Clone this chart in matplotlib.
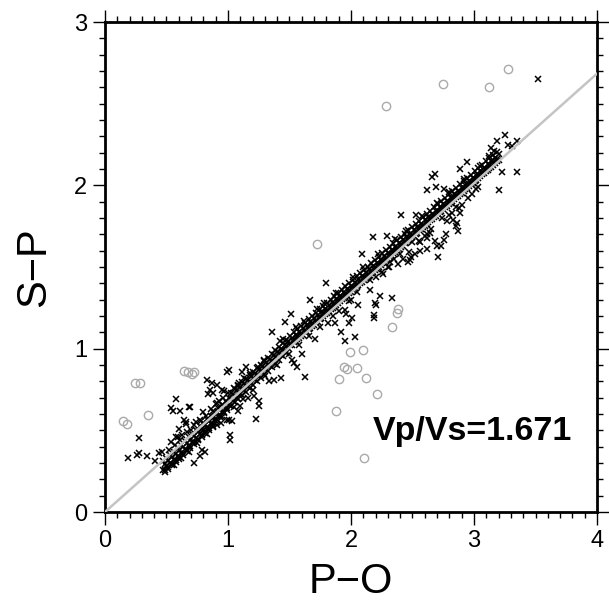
import matplotlib
matplotlib.use("Agg")
import matplotlib.pyplot as plt
from matplotlib.ticker import MultipleLocator

plt.rcParams['font.family'] = ['Liberation Sans', 'DejaVu Sans']

vpvs = 1.671
x_range = [0, 4]
y_range = [0, 3]

# dense band: lanes read along the main cloud
band_x = [0.47, 0.50, 0.53, 0.56, 0.59, 0.62, 0.65, 0.68, 0.71, 0.74, 0.77, 0.80, 0.83, 0.86, 0.89,
          0.92, 0.95, 0.98, 1.01, 1.04, 1.07, 1.10, 1.13, 1.16, 1.19, 1.22, 1.25, 1.28, 1.31, 1.34,
          1.37, 1.40, 1.43, 1.46, 1.49, 1.52, 1.55, 1.58, 1.61, 1.64, 1.67, 1.70, 1.73, 1.76, 1.79,
          1.82, 1.85, 1.88, 1.91, 1.94, 1.97, 2.00, 2.03, 2.06, 2.09, 2.12, 2.15, 2.18, 2.21, 2.24,
          2.27, 2.30, 2.33, 2.36, 2.39, 2.42, 2.45, 2.48, 2.51, 2.54, 2.57, 2.60, 2.63, 2.66, 2.69,
          2.72, 2.75, 2.78, 2.81, 2.84, 2.87, 2.90, 2.93, 2.96, 2.99, 3.02, 3.05, 3.08, 3.11, 3.14,
          3.17, 3.20]
band_y_up = [0.31, 0.33, 0.35, 0.37, 0.39, 0.41, 0.435, 0.457, 0.48, 0.50, 0.525, 0.545, 0.57, 0.59, 0.61,
             0.635, 0.655, 0.68, 0.70, 0.72, 0.745, 0.765, 0.785, 0.81, 0.83, 0.85, 0.87, 0.895, 0.915, 0.935,
             0.96, 0.98, 1.00, 1.02, 1.045, 1.065, 1.085, 1.105, 1.125, 1.145, 1.165, 1.185, 1.205, 1.225, 1.245,
             1.265, 1.285, 1.305, 1.325, 1.345, 1.365, 1.385, 1.405, 1.425, 1.445, 1.465, 1.485, 1.505, 1.525, 1.545,
             1.565, 1.585, 1.605, 1.625, 1.645, 1.665, 1.685, 1.705, 1.725, 1.745, 1.765, 1.785, 1.805, 1.825, 1.845,
             1.865, 1.885, 1.905, 1.925, 1.945, 1.965, 1.985, 2.005, 2.025, 2.045, 2.065, 2.085, 2.105, 2.13, 2.15,
             2.17, 2.19]
band_y_lo = [0.26, 0.28, 0.30, 0.32, 0.34, 0.36, 0.385, 0.407, 0.43, 0.455, 0.475, 0.50, 0.52, 0.54, 0.565,
             0.59, 0.61, 0.635, 0.655, 0.68, 0.70, 0.72, 0.745, 0.765, 0.79, 0.81, 0.83, 0.855, 0.875, 0.895,
             0.92, 0.94, 0.96, 0.985, 1.005, 1.025, 1.045, 1.065, 1.085, 1.105, 1.125, 1.145, 1.165, 1.19, 1.21,
             1.23, 1.25, 1.27, 1.29, 1.31, 1.33, 1.35, 1.37, 1.39, 1.41, 1.43, 1.45, 1.47, 1.49, 1.51,
             1.53, 1.55, 1.57, 1.59, 1.61, 1.63, 1.65, 1.67, 1.69, 1.71, 1.73, 1.75, 1.775, 1.795, 1.815,
             1.835, 1.855, 1.875, 1.895, 1.915, 1.935, 1.955, 1.975, 1.995, 2.015, 2.035, 2.055, 2.075, 2.095, 2.115,
             2.135, 2.155]
mid_x = [0.485, 0.515, 0.545, 0.575, 0.605, 0.635, 0.665, 0.695, 0.725, 0.755, 0.785, 0.815, 0.845, 0.875,
         0.905, 0.935, 0.965, 0.995, 1.025, 1.055, 1.085, 1.115, 1.145, 1.175, 1.205, 1.235, 1.265, 1.295,
         1.325, 1.355, 1.385, 1.415, 1.445, 1.475, 1.505, 1.535, 1.565, 1.595, 1.625, 1.655, 1.685, 1.715,
         1.745, 1.775, 1.805, 1.835, 1.865, 1.895, 1.925, 1.955, 1.985, 2.015, 2.045, 2.075, 2.105, 2.135,
         2.165, 2.195, 2.225, 2.255, 2.285, 2.315, 2.345, 2.375, 2.405, 2.435, 2.465, 2.495, 2.525, 2.555,
         2.585, 2.615, 2.645, 2.675, 2.705, 2.735, 2.765, 2.795, 2.825, 2.855, 2.885, 2.915, 2.945, 2.975,
         3.005, 3.035, 3.065, 3.095, 3.125, 3.155, 3.185]
mid_y = [0.295, 0.316, 0.336, 0.356, 0.377, 0.399, 0.421, 0.443, 0.466, 0.489, 0.511, 0.533, 0.555, 0.578,
         0.600, 0.622, 0.645, 0.667, 0.689, 0.711, 0.733, 0.754, 0.776, 0.797, 0.819, 0.841, 0.862, 0.884,
         0.906, 0.927, 0.949, 0.971, 0.993, 1.014, 1.035, 1.055, 1.075, 1.095, 1.115, 1.136, 1.156, 1.176,
         1.196, 1.216, 1.236, 1.256, 1.276, 1.297, 1.317, 1.337, 1.357, 1.377, 1.397, 1.417, 1.438, 1.458,
         1.478, 1.498, 1.518, 1.538, 1.558, 1.578, 1.599, 1.619, 1.639, 1.659, 1.679, 1.699, 1.719, 1.739,
         1.760, 1.780, 1.800, 1.820, 1.840, 1.860, 1.880, 1.900, 1.921, 1.941, 1.961, 1.981, 2.001, 2.021,
         2.041, 2.062, 2.082, 2.102, 2.122, 2.142, 2.162]
outer_y_a = [0.245, 0.266, 0.286, 0.306, 0.327, 0.349, 0.371, 0.393, 0.416, 0.439, 0.461, 0.483, 0.505, 0.528,
             0.570, 0.592, 0.615, 0.637, 0.729, 0.751, 0.773, 0.794, 0.816, 0.837, 0.859, 0.881, 0.902, 0.924,
             0.946, 0.967, 0.989, 1.011, 1.033, 1.054, 1.080, 1.100, 1.120, 1.140, 1.160, 1.181, 1.201, 1.221,
             1.241, 1.261, 1.281, 1.301, 1.321, 1.342, 1.362, 1.382, 1.402, 1.422, 1.442, 1.462, 1.483, 1.503,
             1.523, 1.543, 1.563, 1.583, 1.603, 1.623, 1.644, 1.664, 1.684, 1.704, 1.724, 1.744, 1.764, 1.784,
             1.805, 1.825, 1.845, 1.865, 1.885, 1.905, 1.925, 1.945, 1.966, 1.986, 2.006, 2.026, 2.046, 2.066,
             2.086, 2.107, 2.127, 2.147, 2.167, 2.187, 2.207]
outer_y_b = [0.255, 0.276, 0.296, 0.316, 0.337, 0.359, 0.381, 0.403, 0.426, 0.449, 0.471, 0.493, 0.515, 0.538,
             0.560, 0.582, 0.605, 0.627, 0.649, 0.671, 0.693, 0.714, 0.736, 0.757, 0.779, 0.801, 0.822, 0.844,
             0.866, 0.887, 0.909, 0.931, 0.953, 0.974, 1.020, 1.040, 1.060, 1.080, 1.100, 1.121, 1.141, 1.161,
             1.181, 1.201, 1.221, 1.241, 1.261, 1.282, 1.302, 1.322, 1.342, 1.362, 1.382, 1.402, 1.423, 1.443,
             1.463, 1.483, 1.503, 1.523, 1.543, 1.563, 1.584, 1.604, 1.624, 1.644, 1.664, 1.684, 1.704, 1.724,
             1.745, 1.765, 1.785, 1.805, 1.825, 1.845, 1.865, 1.885, 1.906, 1.926, 1.946, 1.966, 1.986, 2.006,
             2.026, 2.047, 2.067, 2.087, 2.107, 2.127, 2.147]

# scattered picks (black crosses)
scat_x = [0.19, 0.26, 0.28, 0.34, 0.41, 0.28, 0.44, 0.46, 0.54, 0.59, 0.66,
          0.575, 0.54, 0.55, 0.61, 0.68, 0.69, 0.64, 0.66, 0.60, 0.58, 0.61, 0.72, 0.77, 0.80,
          0.79, 0.81, 0.77, 0.72,
          0.83, 0.87, 0.85, 0.84, 0.88, 0.91, 0.95, 0.97, 0.91, 0.97, 0.88, 0.99, 1.01, 1.03,
          0.94, 1.02, 1.02, 0.99, 1.01, 1.11, 1.15, 1.08, 1.10, 1.08, 1.16, 1.23, 1.21, 0.91,
          1.25, 1.25, 1.37, 1.43, 1.33,
          1.80, 1.67, 1.51, 1.46, 1.355, 1.42, 1.71, 1.815, 1.87, 1.95, 1.96, 2.06, 1.98, 1.92,
          1.95, 2.03, 1.63, 1.56, 1.52, 1.54, 1.60, 2.005, 2.20, 2.19, 2.19, 2.155, 2.235,
          2.33, 2.195, 2.155, 2.18, 2.29, 2.09, 2.32, 2.26, 2.31,
          2.615, 2.755, 2.41, 2.53, 2.48, 2.49, 2.46, 2.71, 2.70, 2.56, 2.615, 2.64, 2.68, 2.76,
          2.77, 2.73, 2.56, 2.52, 2.62, 2.86, 2.85, 2.89, 2.85, 2.82, 2.50, 2.47,
          3.25, 3.185, 3.28, 3.31, 3.35, 3.14, 3.16, 2.94, 2.89, 2.68, 2.66, 2.69, 3.225, 3.35,
          3.205, 3.035, 3.52,
          2.74, 2.78, 2.80, 2.83, 2.88, 2.90, 2.95, 2.98, 3.02, 2.87,
          2.30, 2.35, 2.40, 2.42, 2.38, 2.55, 2.60, 2.65, 2.62, 2.25, 2.20, 2.05, 2.00, 1.98,
          0.52, 0.57, 0.63, 0.67, 0.70, 0.74, 0.78, 0.82, 0.86, 0.90, 0.93, 0.96, 1.00, 1.05,
          1.09, 1.13, 1.18, 1.24, 1.29,
          0.56, 0.62, 0.68, 0.75, 0.83, 0.88, 0.95, 1.05, 1.12, 1.20, 1.30, 1.40, 1.50, 1.58,
          1.66, 1.75, 1.85, 1.90,
          1.45, 1.55, 1.62, 1.72, 1.78, 1.88, 2.02, 2.10, 2.22, 2.36, 2.45, 2.58, 2.70, 2.80,
          2.92, 3.05, 3.12]
scat_y = [0.33, 0.35, 0.36, 0.34, 0.31, 0.455, 0.36, 0.37, 0.43, 0.46, 0.55,
          0.69, 0.635, 0.62, 0.62, 0.645, 0.64, 0.565, 0.54, 0.51, 0.46, 0.44, 0.53, 0.565, 0.61,
          0.38, 0.37, 0.34, 0.30,
          0.81, 0.79, 0.75, 0.72, 0.73, 0.78, 0.75, 0.74, 0.665, 0.65, 0.62, 0.565, 0.565, 0.56,
          0.545, 0.47, 0.44, 0.86, 0.87, 0.86, 0.89, 0.78, 0.65, 0.62, 0.70, 0.57, 0.71, 0.53,
          0.68, 0.65, 0.81, 0.82, 0.80,
          1.40, 1.30, 1.21, 1.165, 1.10, 1.05, 1.06, 1.155, 1.16, 1.237, 1.21, 1.27, 1.16, 1.10,
          1.047, 1.07, 0.825, 0.89, 0.93, 0.91, 0.967, 1.19, 1.27, 1.205, 1.19, 1.36, 1.32,
          1.31, 1.28, 1.42, 1.685, 1.69, 1.58, 1.53, 1.46, 1.50,
          1.97, 1.98, 1.82, 1.82, 1.54, 1.56, 1.53, 1.56, 1.63, 1.655, 1.675, 1.71, 1.66, 1.665,
          1.70, 1.63, 1.60, 1.58, 1.61, 1.77, 1.75, 1.83, 1.87, 1.83, 1.655, 1.59,
          2.31, 2.27, 2.25, 2.24, 2.27, 2.23, 2.21, 2.145, 2.10, 2.07, 2.05, 1.99, 2.08, 2.08,
          1.97, 1.99, 2.65,
          1.80, 1.78, 1.82, 1.79, 1.86, 1.88, 1.92, 1.95, 1.98, 1.72,
          1.50, 1.55, 1.58, 1.55, 1.52, 1.66, 1.69, 1.73, 1.70, 1.47, 1.44, 1.35, 1.30, 1.29,
          0.38, 0.41, 0.47, 0.49, 0.50, 0.55, 0.56, 0.59, 0.63, 0.66, 0.68, 0.70, 0.73, 0.76,
          0.79, 0.82, 0.85, 0.89, 0.93,
          0.29, 0.33, 0.37, 0.42, 0.48, 0.52, 0.58, 0.64, 0.69, 0.75, 0.83, 0.90, 0.97, 1.02,
          1.08, 1.13, 1.20, 1.23,
          1.06, 1.13, 1.17, 1.24, 1.28, 1.34, 1.44, 1.50, 1.58, 1.67, 1.72, 1.81, 1.89, 1.96,
          2.04, 2.12, 2.18]

# rejected picks (gray circles)
rej_x = [0.15, 0.175, 0.24, 0.285, 0.35, 0.64, 0.675, 0.72, 0.71,
         1.99, 2.095, 1.94, 1.97, 2.05, 1.905, 2.12, 2.21, 1.875, 2.105,
         2.385, 2.37, 2.335, 1.72, 2.285, 2.745, 3.125, 3.28]
rej_y = [0.557, 0.54, 0.79, 0.79, 0.594, 0.865, 0.86, 0.86, 0.845,
         0.98, 0.99, 0.89, 0.875, 0.88, 0.816, 0.82, 0.72, 0.62, 0.33,
         1.24, 1.22, 1.13, 1.64, 2.486, 2.62, 2.60, 2.71]

fig = plt.figure(figsize=(6.09, 6.05), dpi=100)
ax = fig.add_axes([0.1724, 0.1537, 0.8079, 0.8099])

ax.plot(x_range, [(vpvs - 1) * v for v in x_range], color='#c4c4c4', lw=1.8, zorder=3)

kw = dict(marker='x', ls='none', color='black', ms=4.8, mew=1.1, zorder=2)
ax.plot(band_x, band_y_up, **kw)
ax.plot(band_x, band_y_lo, **kw)
ax.plot(mid_x, mid_y, **kw)
ax.plot(mid_x, outer_y_a, **kw)
ax.plot(mid_x, outer_y_b, **kw)
ax.plot(scat_x, scat_y, **kw)
ax.plot(rej_x, rej_y, marker='o', ls='none', mfc='none', mec='#aaaaaa', ms=6, mew=1.0, zorder=2)

ax.text(2.18, 0.49, 'Vp/Vs=%.3f' % vpvs, fontsize=24.5, fontweight='bold', va='center', ha='left')

ax.set_xlim(*x_range)
ax.set_ylim(*y_range)
ax.xaxis.set_major_locator(MultipleLocator(1))
ax.xaxis.set_minor_locator(MultipleLocator(0.1))
ax.yaxis.set_major_locator(MultipleLocator(1))
ax.yaxis.set_minor_locator(MultipleLocator(0.1))
ax.tick_params(which='both', direction='out', top=True, right=True, width=1, labelsize=17)
ax.tick_params(which='major', length=9, pad=4)
ax.tick_params(which='minor', length=4.5)
for s in ax.spines.values():
    s.set_linewidth(2)

ax.set_xlabel('P\u2212O', fontsize=30, labelpad=7)
ax.set_ylabel('S\u2212P', fontsize=30, labelpad=14)

fig.savefig('out.png', dpi=100)
